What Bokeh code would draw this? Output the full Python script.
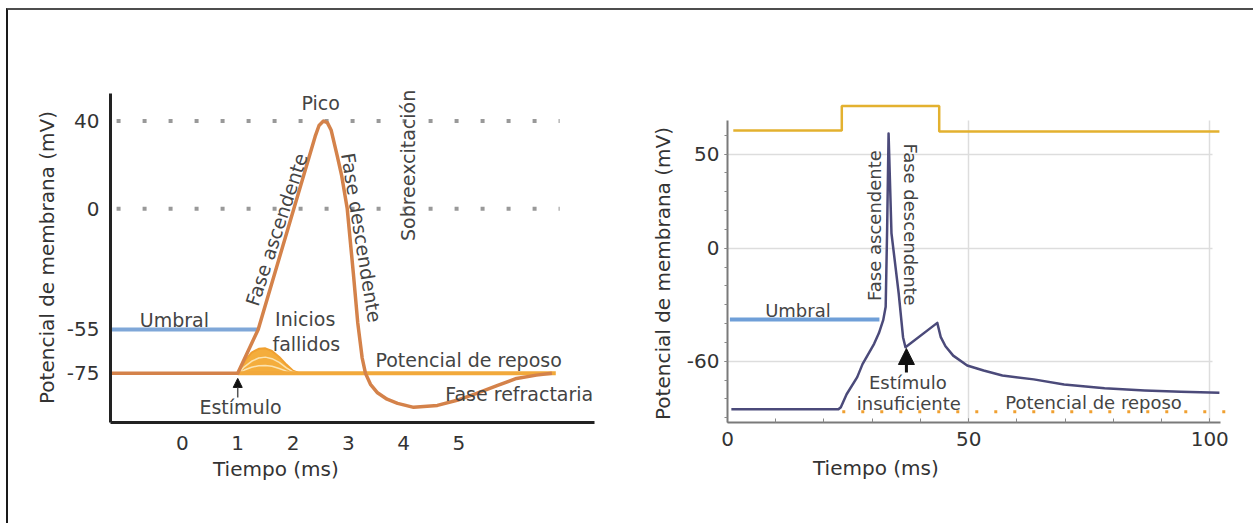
from bokeh.plotting import figure
from bokeh.models import Range1d, FixedTicker, Label, Arrow, NormalHead, Title
from bokeh.layouts import row
from bokeh.embed import file_html
from bokeh.resources import INLINE

FONT = "DejaVu Sans"

# ---------------- Left chart data (Tiempo ms, Potencial mV) ----------------
left_xticks = [0, 1, 2, 3, 4, 5]
left_yticks = [-75, -55, 0, 40]
left_ylabels = {-75: "-75", -55: "-55", 0: "0", 40: "40"}

ap_t = [-1.3, 1.0, 1.37, 2.40, 2.47, 2.55, 2.62, 2.69, 2.80, 2.88, 2.98, 3.09, 3.17, 3.25,
        3.31, 3.40, 3.52, 3.70, 3.89, 4.18, 4.61, 5.00, 5.32, 5.70, 6.04, 6.40, 6.68]
ap_v = [-75, -75, -55, 33, 38, 40, 39.3, 35.8, 24, 15, 0, -29.3, -52, -68,
        -75, -80, -83.7, -86.8, -88.7, -90.5, -89.6, -87.0, -84.1, -80.5, -77.3, -75.8, -75]

rest_t = [1.0, 6.75]
rest_v = [-75, -75]

umbral_t = [-1.3, 1.37]
umbral_v = [-55, -55]

dots_t = [-1.19, 6.82]
pico_v = [40, 40]
cero_v = [0, 0]

hump_t = [1.0, 1.12, 1.25, 1.38, 1.5, 1.62, 1.75, 1.88, 2.0, 2.12]
hump1_v = [-75, -69.5, -65.5, -63.8, -63.6, -64.8, -67.5, -71.0, -73.8, -75]
hump2_v = [-75, -72.0, -69.5, -68.0, -67.6, -68.3, -70.0, -72.5, -74.3, -75]
hump3_v = [-75, -73.5, -72.2, -71.5, -71.4, -71.8, -72.8, -74.0, -74.8, -75]
hump_base = [-75] * 10

# ---------------- Right chart data ----------------
right_xticks = [0, 50, 100]
right_yticks = [-60, 0, 50]
right_ylabels = {-60: "-60", 0: "0", 50: "50"}

stim_t = [1.2, 23.7, 23.7, 43.9, 43.9, 102.0]
stim_v = [62.6, 62.6, 75.5, 75.5, 62.0, 62.0]

mp_t = [0.8, 23.0, 23.5, 24.7, 26.9, 28.0, 30.4, 31.4, 32.3, 32.8, 33.1, 33.4, 34.0, 35.5,
        36.4, 36.9, 43.5, 44.2, 45.2, 46.8, 49.7, 53.1, 57.0, 63.5, 69.8, 78.2, 86.5, 94.0, 102.0]
mp_v = [-85.5, -85.5, -84.4, -77.5, -68.4, -61.5, -50.7, -45.0, -38.0, -31.0, 10.0, 61.0, 8.0, -24.0,
        -47.2, -52.5, -39.6, -47.0, -52.0, -57.0, -62.2, -64.9, -67.5, -69.6, -72.3, -74.3, -75.5, -76.2, -76.7]

r_umbral_t = [0.5, 31.5]
r_umbral_v = [-37.8, -37.8]

r_rest_t = [23.8, 104.3]
r_rest_v = [-86.8, -86.8]


def base_fig(w, h, xr, yr, mbl, mbr, mbt, mbb):
    p = figure(width=w, height=h, x_range=Range1d(*xr), y_range=Range1d(*yr),
               output_backend="svg", toolbar_location=None,
               min_border_left=mbl, min_border_right=mbr,
               min_border_top=mbt, min_border_bottom=mbb)
    p.outline_line_color = None
    p.background_fill_color = "white"
    p.border_fill_color = "white"
    return p


def style_axis(ax, size="20px", color="#333333"):
    ax.major_label_text_font = FONT
    ax.major_label_text_font_size = size
    ax.major_label_text_color = color


def add_title(p, text, side, offset, standoff, valign):
    kw = dict(text=text, align="left", offset=offset, vertical_align=valign,
              text_font=FONT, text_font_size="20px", text_font_style="normal",
              text_color="#333333")
    try:
        t = Title(standoff=standoff, **kw)
    except Exception:
        t = Title(**kw)
    p.add_layout(t, side)


def label(p, x, y, text, size, angle=0, align="center", color="#444444"):
    p.add_layout(Label(x=x, y=y, text=text, text_font=FONT, text_font_size=size,
                       text_color=color, text_align=align, text_baseline="middle",
                       angle=angle, angle_units="deg"))


# ======================= LEFT =======================
p1 = base_fig(612, 513, (-1.30, 7.45), (-97.4, 58.5), 102, 26, 70, 101)
p1.grid.visible = False

xa = p1.xaxis[0]
xa.ticker = FixedTicker(ticks=left_xticks)
xa.axis_line_color = "#222222"
xa.axis_line_width = 3
xa.major_tick_line_color = None
xa.minor_tick_line_color = None
xa.major_label_standoff = 7
style_axis(xa)

ya = p1.yaxis[0]
ya.ticker = FixedTicker(ticks=left_yticks)
ya.major_label_overrides = left_ylabels
ya.bounds = (-97.4, 52.6)
ya.axis_line_color = "#222222"
ya.axis_line_width = 3
ya.major_tick_line_color = None
ya.minor_tick_line_color = None
ya.major_label_standoff = 5
style_axis(ya)

add_title(p1, "Tiempo (ms)", "below", 102.5, 8, "top")
add_title(p1, "Potencial de membrana (mV)", "left", 18.5, 10, "bottom")

p1.line(dots_t, pico_v, line_color="#999999", line_width=4, line_dash="4 22")
p1.line(dots_t, cero_v, line_color="#999999", line_width=4, line_dash="4 22")

p1.line(umbral_t, umbral_v, line_color="#7fa7d8", line_width=4)
p1.varea(x=hump_t, y1=hump_base, y2=hump1_v, fill_color="#f4ad3c")
p1.line(hump_t, hump1_v, line_color="#f0a030", line_width=2)
p1.line(hump_t, hump2_v, line_color="#fbe3b0", line_width=1.5)
p1.line(hump_t, hump3_v, line_color="#fbe3b0", line_width=1.5)
p1.line(rest_t, rest_v, line_color="#f2a93b", line_width=4)
p1.line(ap_t, ap_v, line_color="#d4824a", line_width=3.5, line_join="round")

p1.add_layout(Arrow(end=NormalHead(size=9, fill_color="#111111", line_color="#111111"),
                    x_start=1.0, y_start=-86.0, x_end=1.0, y_end=-77.3,
                    line_color="#555555", line_width=1.5))

LS = "19px"
label(p1, 2.50, 48.1, "Pico", LS)
label(p1, 1.70, -9.4, "Fase ascendente", LS, angle=71.8)
label(p1, 3.24, -13.1, "Fase descendente", LS, angle=-80.8)
label(p1, 4.07, 19.8, "Sobreexcitación", LS, angle=90)
label(p1, -0.145, -50.9, "Umbral", LS)
label(p1, 2.22, -50.4, "Inicios", LS)
label(p1, 2.24, -61.4, "fallidos", LS)
label(p1, 3.49, -69.1, "Potencial de reposo", LS, align="left")
label(p1, 6.09, -84.2, "Fase refractaria", LS)
label(p1, 1.05, -90.5, "Estímulo", LS)

# ======================= RIGHT =======================
p2 = base_fig(633, 513, (0, 104.3), (-92.5, 89.1), 107, 23, 70, 101)

xb = p2.xaxis[0]
xb.ticker = FixedTicker(ticks=right_xticks, minor_ticks=list(range(0, 101, 10)))
xb.bounds = (0, 102.3)
xb.axis_line_color = "#7a7a7a"
xb.axis_line_width = 2
xb.major_tick_line_color = "#888888"
xb.minor_tick_line_color = "#888888"
xb.major_tick_in = 4
xb.major_tick_out = 0
xb.minor_tick_in = 4
xb.minor_tick_out = 0
xb.major_label_standoff = 9
style_axis(xb)

yb = p2.yaxis[0]
yb.ticker = FixedTicker(ticks=right_yticks, minor_ticks=list(range(-90, 61, 10)))
yb.major_label_overrides = right_ylabels
yb.bounds = (-92.5, 68)
yb.axis_line_color = "#7a7a7a"
yb.axis_line_width = 2
yb.major_tick_line_color = "#888888"
yb.minor_tick_line_color = "#888888"
yb.major_tick_in = 0
yb.major_tick_out = 3
yb.minor_tick_in = 0
yb.minor_tick_out = 3
yb.major_label_standoff = 5
style_axis(yb)

add_title(p2, "Tiempo (ms)", "below", 85.5, 15, "top")
add_title(p2, "Potencial de membrana (mV)", "left", 2.5, 18, "bottom")

p2.xgrid.ticker = FixedTicker(ticks=[50, 100])
p2.ygrid.ticker = FixedTicker(ticks=right_yticks)
for g in (p2.xgrid[0], p2.ygrid[0]):
    g.grid_line_color = "#dddddd"
    g.grid_line_width = 1.5
try:
    p2.xgrid[0].cross_bounds = (-92.5, 68)
    p2.ygrid[0].cross_bounds = (0, 100.5)
except Exception:
    pass

p2.line(stim_t, stim_v, line_color="#e3b12f", line_width=2.5)
p2.line(r_rest_t, r_rest_v, line_color="#f0a030", line_width=3, line_dash="3 16")
p2.line(r_umbral_t, r_umbral_v, line_color="#6f9fd8", line_width=4)
p2.line(mp_t, mp_v, line_color="#4b4a7a", line_width=2.5, line_join="round")

p2.add_layout(Arrow(end=NormalHead(size=16, fill_color="#111111", line_color="#111111"),
                    x_start=37.1, y_start=-65.9, x_end=37.1, y_end=-53.2,
                    line_color="#111111", line_width=3))

RS = "18px"
label(p2, 14.6, -33.0, "Umbral", RS)
label(p2, 30.5, 12.1, "Fase ascendente", RS, angle=90)
label(p2, 38.0, 12.6, "Fase descendente", RS, angle=-90)
label(p2, 37.4, -71.3, "Estímulo", RS)
label(p2, 37.6, -82.4, "insuficiente", RS)
label(p2, 75.9, -81.9, "Potencial de reposo", RS)

layout = row(p1, p2, styles={"margin-left": "6px", "margin-top": "8px",
                             "border-top": "2px solid #4d4d4d",
                             "border-left": "2px solid #1a1a1a"})

open("out.html", "w").write(file_html(layout, INLINE))
